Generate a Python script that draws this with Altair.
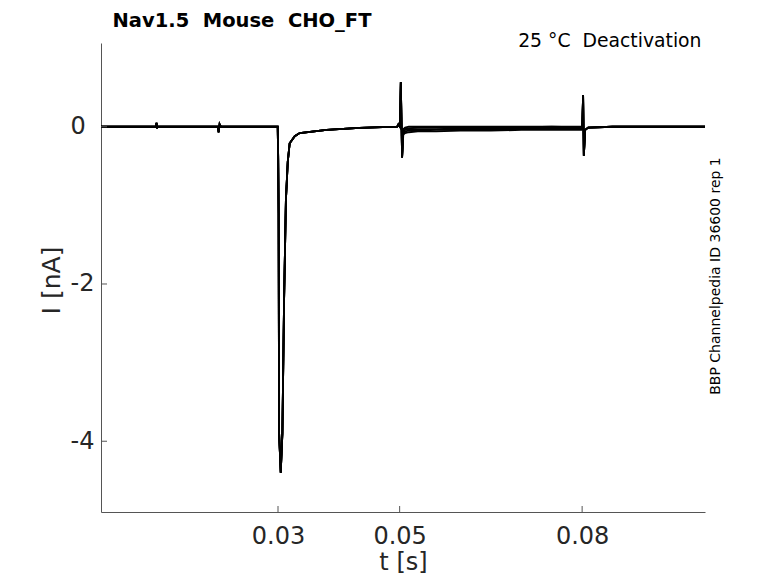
import altair as alt
import pandas as pd

# ---- data (time in s, current in nA) ----
t_pre = [0.0009, 0.0099, 0.01003, 0.01012, 0.0102, 0.0201, 0.02025, 0.0204, 0.0206,
         0.02995, 0.03003, 0.03010, 0.03018, 0.03045, 0.03072, 0.03100, 0.03130,
         0.03160, 0.03192, 0.03275, 0.03357, 0.0380, 0.0434, 0.0496, 0.0498,
         0.05005, 0.05019, 0.0504]
i_pre = [0.00, 0.00, 0.05, -0.02, 0.00, 0.00, -0.07, 0.03, 0.00,
         0.00, -0.40, -1.10, -3.90, -4.40, -3.90, -2.20, -0.93,
         -0.45, -0.21, -0.12, -0.08, -0.04, -0.015, 0.00, 0.03,
         0.00, 0.57, -0.39]

t_tail = [0.0506, 0.0509, 0.0515, 0.0530, 0.0560, 0.0600, 0.0650, 0.0700, 0.0750, 0.0799]
tail_a = [-0.10, -0.08, -0.07, -0.06, -0.06, -0.05, -0.05, -0.04, -0.04, -0.04]
tail_b = [-0.08, -0.06, -0.05, -0.05, -0.04, -0.04, -0.04, -0.03, -0.03, -0.03]
tail_c = [-0.06, -0.04, -0.03, -0.03, -0.03, -0.02, -0.02, -0.02, -0.02, -0.02]
tail_d = [-0.04, -0.02, -0.02, -0.01, -0.01, -0.01, -0.01, -0.01, 0.00, -0.01]
tail_e = [-0.03, -0.01, 0.00, 0.00, 0.00, 0.00, 0.00, 0.00, 0.00, 0.00]

t_post = [0.08002, 0.08016, 0.08028, 0.0805, 0.0810, 0.0850, 0.1002]
i_post = [0.00, 0.40, -0.37, -0.04, -0.01, 0.00, 0.00]

x_ticks = [0.03, 0.05, 0.08]
y_ticks = [-4, -2, 0]
x_domain = [0.0009, 0.1002]
y_domain = [-4.9, 1.065]

NB = "\u00a0"
title_text = "Nav1.5" + NB * 2 + "Mouse" + NB * 2 + "CHO_FT"
corner_text = "25" + NB + "°C" + NB * 2 + "Deactivation"
side_text = "BBP Channelpedia ID 36600 rep 1"

# ---- build table ----
rows = []
for k, tail in enumerate([tail_a, tail_b, tail_c, tail_d, tail_e]):
    ts = t_pre + t_tail + t_post
    vs = i_pre + tail + i_post
    for t, v in zip(ts, vs):
        rows.append({"t": t, "i": v, "sweep": k})
df = pd.DataFrame(rows)

W, H = 604, 469
AX = "#555555"
TXT = "#262626"
FONT = "DejaVu Sans"

xs = alt.Scale(domain=x_domain, nice=False, zero=False)
ys = alt.Scale(domain=y_domain, nice=False, zero=False)

lines = alt.Chart(df).mark_line(color="black", strokeWidth=1.8, clip=True).encode(
    x=alt.X("t:Q", scale=xs, axis=alt.Axis(
        values=x_ticks, tickSize=0, grid=False, domainColor=AX, domainWidth=1,
        labelExpr="datum.value + ''", labelFont=FONT, labelFontSize=24,
        labelColor=TXT, labelBaseline="alphabetic", labelPadding=31,
        title="t [s]", titleFont=FONT, titleFontSize=24, titleFontWeight="normal",
        titleColor=TXT, titleY=57, titleBaseline="alphabetic")),
    y=alt.Y("i:Q", scale=ys, axis=alt.Axis(
        values=y_ticks, tickSize=0, grid=False, domainColor=AX, domainWidth=1,
        labelExpr="datum.value + ''", labelFont=FONT, labelFontSize=24,
        labelColor=TXT, labelAlign="left", labelBaseline="middle", labelPadding=31,
        title="I [nA]", titleFont=FONT, titleFontSize=25, titleFontWeight="normal",
        titleColor=TXT, titleX=-50, titleY=H / 2 + 2.5, titleAngle=270,
        titleBaseline="middle", titleAlign="center")),
    detail="sweep:N",
)

xt = alt.Chart(pd.DataFrame({"v": x_ticks})).mark_rule(color=AX, strokeWidth=1).encode(
    x=alt.X("v:Q", scale=xs), y=alt.value(H), y2=alt.value(H - 6))
yt = alt.Chart(pd.DataFrame({"v": y_ticks})).mark_rule(color=AX, strokeWidth=1).encode(
    y=alt.Y("v:Q", scale=ys), x=alt.value(0), x2=alt.value(6))

title = alt.Chart(pd.DataFrame({"s": [title_text]})).mark_text(
    font=FONT, fontSize=19.5, fontWeight="bold", color="black", align="left",
    baseline="alphabetic"
).encode(text="s:N", x=alt.value(11.5), y=alt.value(-16.3))

corner = alt.Chart(pd.DataFrame({"s": [corner_text]})).mark_text(
    font=FONT, fontSize=18.8, color="black", align="right", baseline="alphabetic"
).encode(text="s:N", x=alt.value(600.5), y=alt.value(4.3))

side = alt.Chart(pd.DataFrame({"s": [side_text]})).mark_text(
    font=FONT, fontSize=14, color="black", align="center", baseline="middle", angle=270
).encode(text="s:N", x=alt.value(615), y=alt.value(233))

chart = alt.layer(lines, xt, yt, title, corner, side).properties(
    width=W, height=H,
    autosize=alt.AutoSizeParams(type="none"),
    padding={"left": 93, "top": 35, "right": 65, "bottom": 63},
).configure_view(stroke=None)

chart.save("out.html", embed_options={"renderer": "svg", "actions": False})
